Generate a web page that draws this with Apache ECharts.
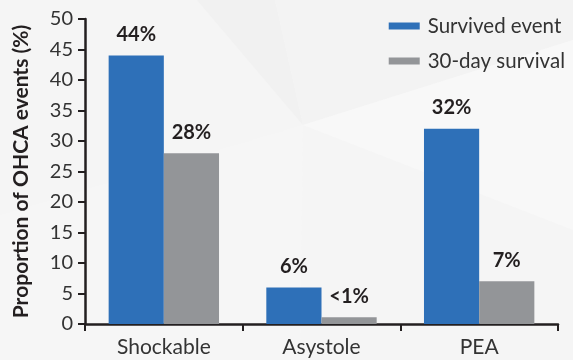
<!DOCTYPE html>
<html>
<head>
<meta charset="utf-8">
<script src="https://cdn.jsdelivr.net/npm/echarts@6/dist/echarts.min.js"></script>
<style>
html,body{margin:0;padding:0;background:#f5f5f5;}
#c{width:573px;height:360px;}
</style>
</head>
<body>
<div id="c"></div>
<script>
var categories = ['Shockable', 'Asystole', 'PEA'];
var survivedEvent = [44, 6, 32];
var thirtyDaySurvival = [28, 1.1, 7];
var survivedLabels = ['44%', '6%', '32%'];
var thirtyDayLabels = ['28%', '<1%', '7%'];
var yTicks = [0, 5, 10, 15, 20, 25, 30, 35, 40, 45, 50];
var seriesNames = ['Survived event', '30-day survival'];

var FONT = 'Lato, "Noto Sans", sans-serif';
var AX = '#231f20';

var chart = echarts.init(document.getElementById('c'));
chart.setOption({
  backgroundColor: '#f5f5f5',
  animation: false,
  graphic: [
    {type:'polygon', z:-10, silent:true, shape:{points:[[197,0],[275,0],[303,125]]}, style:{fill:'#f1f1f1'}},
    {type:'polygon', z:-10, silent:true, shape:{points:[[275,0],[573,0],[573,40],[303,125]]}, style:{fill:'#f3f3f3'}},
    {type:'polygon', z:-10, silent:true, shape:{points:[[303,125],[573,40],[573,230]]}, style:{fill:'#f8f8f8'}},
    {type:'polygon', z:-10, silent:true, shape:{points:[[0,215],[303,125],[300,360],[0,360]]}, style:{fill:'#f6f6f6'}}
  ],
  grid: {left: 85, right: 15, top: 19, bottom: 36, containLabel: false},
  legend: {
    data: seriesNames,
    orient: 'vertical',
    right: 3,
    top: 10,
    itemWidth: 31,
    itemHeight: 7,
    itemGap: 13,
    icon: 'rect',
    textStyle: {fontFamily: FONT, fontSize: 20.5, color: '#333', lineHeight: 22, padding: [0,0,0,3]}
  },
  xAxis: {
    type: 'category',
    data: categories,
    axisLine: {lineStyle: {color: AX, width: 2.5}},
    axisTick: {show: true, length: 7, lineStyle: {color: AX, width: 2}},
    axisLabel: {fontFamily: FONT, fontSize: 21, color: '#333', margin: 13}
  },
  yAxis: {
    type: 'value',
    min: 0, max: 50, interval: 5,
    name: 'Proportion of OHCA events (%)',
    nameLocation: 'middle',
    nameRotate: 90,
    nameGap: 53,
    nameTextStyle: {fontFamily: FONT, fontSize: 21, fontWeight: 'bold', color: AX},
    splitLine: {show: false},
    axisLine: {show: true, lineStyle: {color: AX, width: 2.5}},
    axisTick: {show: true, length: 7, lineStyle: {color: AX, width: 2}},
    axisLabel: {fontFamily: FONT, fontSize: 20, color: '#333', margin: 12,
      formatter: function(v){ return yTicks.indexOf(v) >= 0 ? String(v) : ''; }}
  },
  series: [
    {
      name: seriesNames[0], type: 'bar', data: survivedEvent,
      barGap: '0%', barCategoryGap: '30%',
      itemStyle: {color: '#2e70b8'},
      label: {show: true, position: 'top', distance: 11,
        fontFamily: FONT, fontSize: 20, fontWeight: 'bold', color: AX,
        formatter: function(p){ return survivedLabels[p.dataIndex]; }}
    },
    {
      name: seriesNames[1], type: 'bar', data: thirtyDaySurvival,
      itemStyle: {color: '#939598'},
      label: {show: true, position: 'top', distance: 11,
        fontFamily: FONT, fontSize: 20, fontWeight: 'bold', color: AX,
        formatter: function(p){ return thirtyDayLabels[p.dataIndex]; }}
    }
  ]
});
</script>
</body>
</html>
